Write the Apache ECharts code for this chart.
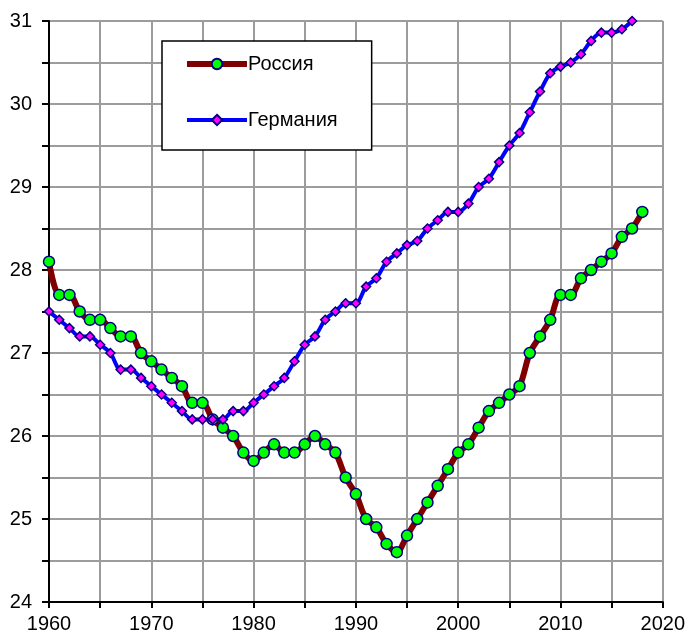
<!DOCTYPE html>
<html>
<head>
<meta charset="utf-8">
<script src="https://cdn.jsdelivr.net/npm/echarts@6/dist/echarts.min.js"></script>
<style>
html,body{margin:0;padding:0;background:#fff;}
#c{width:688px;height:637px;}
</style>
</head>
<body>
<div id="c"></div>
<script>
var seriesNames = ['Россия', 'Германия'];
var yearsRussia = [1960,1961,1962,1963,1964,1965,1966,1967,1968,1969,
  1970,1971,1972,1973,1974,1975,1976,1977,1978,1979,
  1980,1981,1982,1983,1984,1985,1986,1987,1988,1989,
  1990,1991,1992,1993,1994,1995,1996,1997,1998,1999,
  2000,2001,2002,2003,2004,2005,2006,2007,2008,2009,
  2010,2011,2012,2013,2014,2015,2016,2017,2018];
var valuesRussia = [28.1,27.7,27.7,27.5,27.4,27.4,27.3,27.2,27.2,27.0,
  26.9,26.8,26.7,26.6,26.4,26.4,26.2,26.1,26.0,25.8,
  25.7,25.8,25.9,25.8,25.8,25.9,26.0,25.9,25.8,25.5,
  25.3,25.0,24.9,24.7,24.6,24.8,25.0,25.2,25.4,25.6,
  25.8,25.9,26.1,26.3,26.4,26.5,26.6,27.0,27.2,27.4,
  27.7,27.7,27.9,28.0,28.1,28.2,28.4,28.5,28.7];
var yearsGermany = [1960,1961,1962,1963,1964,1965,1966,1967,1968,1969,
  1970,1971,1972,1973,1974,1975,1976,1977,1978,1979,
  1980,1981,1982,1983,1984,1985,1986,1987,1988,1989,
  1990,1991,1992,1993,1994,1995,1996,1997,1998,1999,
  2000,2001,2002,2003,2004,2005,2006,2007,2008,2009,
  2010,2011,2012,2013,2014,2015,2016,2017];
var valuesGermany = [27.5,27.4,27.3,27.2,27.2,27.1,27.0,26.8,26.8,26.7,
  26.6,26.5,26.4,26.3,26.2,26.2,26.2,26.2,26.3,26.3,
  26.4,26.5,26.6,26.7,26.9,27.1,27.2,27.4,27.5,27.6,
  27.6,27.8,27.9,28.1,28.2,28.3,28.35,28.5,28.6,28.7,
  28.7,28.8,29.0,29.1,29.3,29.5,29.65,29.9,30.15,30.37,
  30.45,30.5,30.6,30.76,30.86,30.86,30.9,31.0];

function pairs(xs, ys){ return xs.map(function(x,i){ return [x, ys[i]]; }); }

var FONT = 'Arial, "Liberation Sans", sans-serif';
var chart = echarts.init(document.getElementById('c'), null, {renderer:'canvas'});
chart.setOption({
  animation: false,
  backgroundColor: '#fff',
  grid: {left: 49, right: 25, top: 21, bottom: 35, containLabel: false},
  legend: {
    orient: 'vertical',
    left: 162, top: 41,
    padding: [13, 34, 20, 22],
    itemGap: 36,
    itemWidth: 60,
    itemHeight: 13,
    backgroundColor: '#fff',
    borderColor: '#000',
    borderWidth: 1.5,
    borderRadius: 0,
    textStyle: {fontFamily: FONT, fontSize: 20, color: '#000', padding: [0,0,0,-4]},
    data: [
      {name: seriesNames[0], lineStyle: {width: 6, color: '#800000'}},
      {name: seriesNames[1], lineStyle: {width: 4, color: '#0000ff'}}
    ]
  },
  xAxis: {
    type: 'value', min: 1960, max: 2020, interval: 5,
    axisLine: {show: true, onZero: false, lineStyle: {color: '#000', width: 2}},
    axisTick: {show: true, length: 6, lineStyle: {color: '#000', width: 2}},
    axisLabel: {fontFamily: FONT, fontSize: 20, color: '#000', margin: 12,
      formatter: function(v){ return v % 10 === 0 ? String(v) : ''; }},
    splitLine: {show: true, lineStyle: {color: '#9c9c9c', width: 2}}
  },
  yAxis: {
    type: 'value', min: 24, max: 31, interval: 0.5,
    axisLine: {show: true, onZero: false, lineStyle: {color: '#000', width: 2}},
    axisTick: {show: true, length: 7, lineStyle: {color: '#000', width: 2}},
    axisLabel: {fontFamily: FONT, fontSize: 20, color: '#000', margin: 17,
      formatter: function(v){ return Math.abs(v - Math.round(v)) < 1e-9 ? String(Math.round(v)) : ''; }},
    splitLine: {show: true, lineStyle: {color: '#9c9c9c', width: 2}}
  },
  series: [
    {
      name: seriesNames[0], type: 'line', smooth: 0.3,
      data: pairs(yearsRussia, valuesRussia),
      symbol: 'circle', symbolSize: 11,
      lineStyle: {color: '#800000', width: 6},
      itemStyle: {color: '#00ff00', borderColor: '#000080', borderWidth: 1.5},
      z: 2
    },
    {
      name: seriesNames[1], type: 'line', smooth: 0.3,
      data: pairs(yearsGermany, valuesGermany),
      symbol: 'diamond', symbolSize: 9,
      lineStyle: {color: '#0000ff', width: 4},
      itemStyle: {color: '#ff00ff', borderColor: '#000080', borderWidth: 1.5},
      z: 3
    }
  ]
});
</script>
</body>
</html>
